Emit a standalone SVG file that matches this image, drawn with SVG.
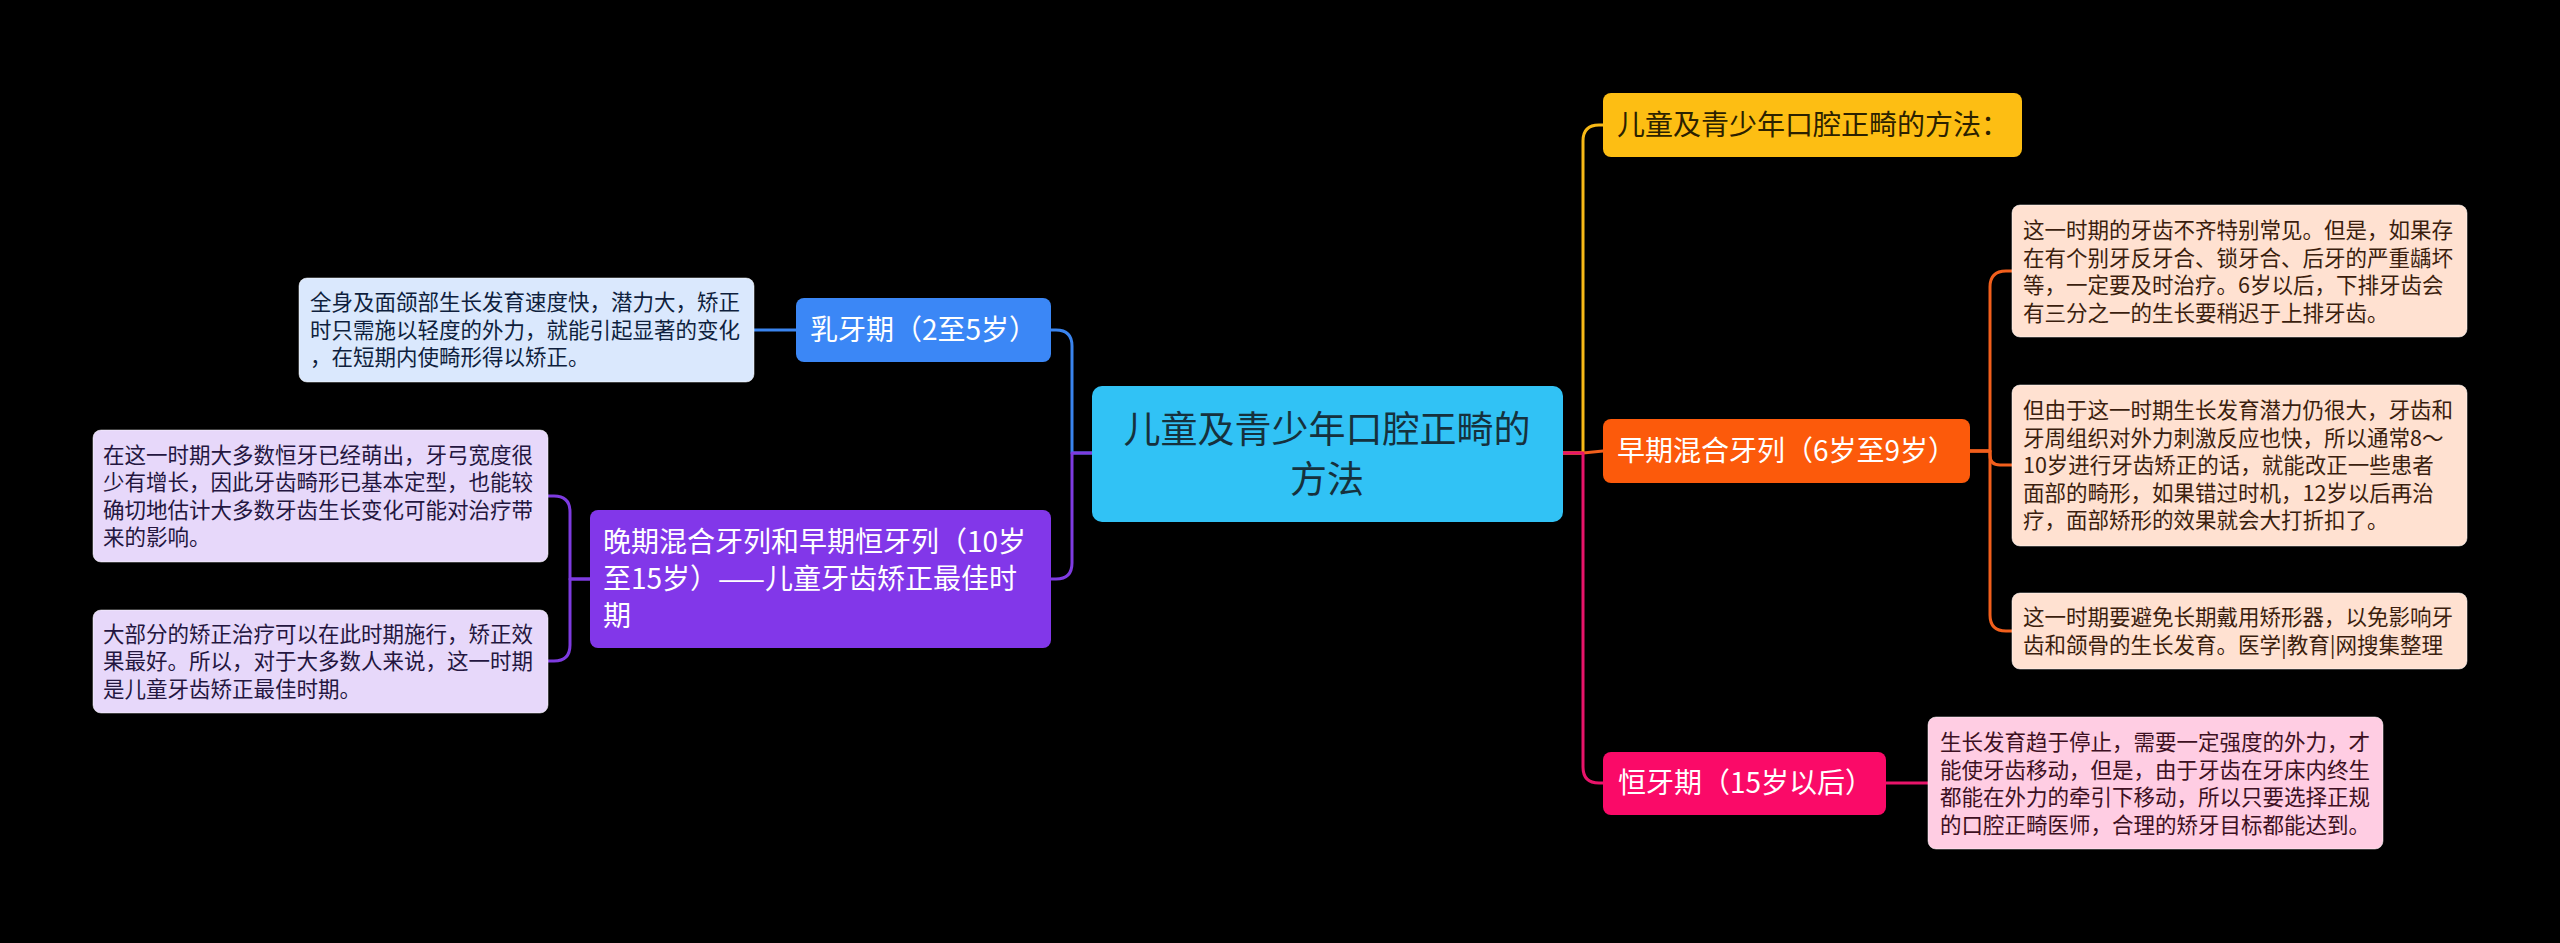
<svg xmlns="http://www.w3.org/2000/svg" width="2560" height="943" viewBox="0 0 2560 943">
<style>
text{font-family:"Noto Sans CJK SC","Noto Sans",sans-serif;}
.c{fill:none;stroke-width:3;stroke-linecap:round;stroke-linejoin:round;}
.br{font-size:28px;fill:#ffffff;}
.ch{font-size:21.5px;}
.cb{stroke:#ffffff;stroke-opacity:0.5;stroke-width:1;}
</style>
<rect x="0" y="0" width="2560" height="943" fill="#000000"/>
<g id="connectors">
  <path class="c" stroke="#F7B916" stroke-width="2" d="M1563,453 H1583 V141 Q1583,125 1599,125 H1603"/>
  <path class="c" stroke="#F25F1C" d="M1563,453 H1583 L1603,451"/>
  <path class="c" stroke="#E8146A" d="M1563,453 H1583 V767 Q1583,783 1599,783 H1603"/>
  <path class="c" stroke="#F25F1C" d="M1970,451 H1990 V287 Q1990,271 2006,271 H2012"/>
  <path class="c" stroke="#F25F1C" d="M1970,451 H1990 V455 Q1990,465 2000,465 H2012"/>
  <path class="c" stroke="#F25F1C" d="M1970,451 H1990 V615 Q1990,631 2006,631 H2012"/>
  <path class="c" stroke="#E8146A" d="M1886,783 H1928"/>
  <path class="c" stroke="#3A84EE" d="M1092,453 H1072 V346 Q1072,330 1056,330 H1051"/>
  <path class="c" stroke="#7E3BE0" d="M1092,453 H1072 V563 Q1072,579 1056,579 H1051"/>
  <path class="c" stroke="#3A84EE" d="M796,330 H754"/>
  <path class="c" stroke="#7E3BE0" d="M590,579 H570 V512 Q570,496 554,496 H548"/>
  <path class="c" stroke="#7E3BE0" d="M590,579 H570 V645 Q570,661 554,661 H548"/>
</g>
<g id="center">
  <rect x="1092" y="386" width="471" height="136" rx="10" fill="#31C2F5"/>
  <text x="1327" y="443" font-size="37" fill="#16313d" text-anchor="middle">儿童及青少年口腔正畸的</text>
  <text x="1327" y="493" font-size="37" fill="#16313d" text-anchor="middle">方法</text>
</g>
<g id="n-yellow">
  <rect x="1603" y="93" width="419" height="64" rx="8" fill="#FDBE13"/>
  <text x="1617" y="135" font-size="28" fill="#2b2100">儿童及青少年口腔正畸的方法：</text>
</g>
<g id="n-orange">
  <rect x="1603" y="419" width="367" height="64" rx="8" fill="#FC5A0B"/>
  <text class="br" x="1617" y="461">早期混合牙列（6岁至9岁）</text>
</g>
<g id="n-orange-1">
  <rect class="cb" x="2012" y="205" width="455" height="132" rx="8" fill="#FFE1D1"/>
  <text class="ch" fill="#3b1e0e">
    <tspan x="2023" y="238">这一时期的牙齿不齐特别常见。但是，如果存</tspan>
    <tspan x="2023" y="265.5">在有个别牙反牙合、锁牙合、后牙的严重龋坏</tspan>
    <tspan x="2023" y="293">等，一定要及时治疗。6岁以后，下排牙齿会</tspan>
    <tspan x="2023" y="320.5">有三分之一的生长要稍迟于上排牙齿。</tspan>
  </text>
</g>
<g id="n-orange-2">
  <rect class="cb" x="2012" y="385" width="455" height="161" rx="8" fill="#FFE1D1"/>
  <text class="ch" fill="#3b1e0e">
    <tspan x="2023" y="418">但由于这一时期生长发育潜力仍很大，牙齿和</tspan>
    <tspan x="2023" y="445.5">牙周组织对外力刺激反应也快，所以通常8～</tspan>
    <tspan x="2023" y="473">10岁进行牙齿矫正的话，就能改正一些患者</tspan>
    <tspan x="2023" y="500.5">面部的畸形，如果错过时机，12岁以后再治</tspan>
    <tspan x="2023" y="528">疗，面部矫形的效果就会大打折扣了。</tspan>
  </text>
</g>
<g id="n-orange-3">
  <rect class="cb" x="2012" y="593" width="455" height="76" rx="8" fill="#FFE1D1"/>
  <text class="ch" fill="#3b1e0e">
    <tspan x="2023" y="625">这一时期要避免长期戴用矫形器，以免影响牙</tspan>
    <tspan x="2023" y="652.5">齿和颌骨的生长发育。医学|教育|网搜集整理</tspan>
  </text>
</g>
<g id="n-pink">
  <rect x="1603" y="752" width="283" height="63" rx="8" fill="#FA0A68"/>
  <text class="br" x="1618" y="793">恒牙期（15岁以后）</text>
</g>
<g id="n-pink-1">
  <rect class="cb" x="1928" y="717" width="455" height="132" rx="8" fill="#FFCDE3"/>
  <text class="ch" fill="#3d1022">
    <tspan x="1940" y="750">生长发育趋于停止，需要一定强度的外力，才</tspan>
    <tspan x="1940" y="777.5">能使牙齿移动，但是，由于牙齿在牙床内终生</tspan>
    <tspan x="1940" y="805">都能在外力的牵引下移动，所以只要选择正规</tspan>
    <tspan x="1940" y="832.5">的口腔正畸医师，合理的矫牙目标都能达到。</tspan>
  </text>
</g>
<g id="n-blue">
  <rect x="796" y="298" width="255" height="64" rx="8" fill="#3B87F6"/>
  <text class="br" x="810" y="340">乳牙期（2至5岁）</text>
</g>
<g id="n-blue-1">
  <rect class="cb" x="299" y="278" width="455" height="104" rx="8" fill="#DAE8FD"/>
  <text class="ch" fill="#0f1f3d">
    <tspan x="310" y="310">全身及面颌部生长发育速度快，潜力大，矫正</tspan>
    <tspan x="310" y="337.5">时只需施以轻度的外力，就能引起显著的变化</tspan>
    <tspan x="310" y="365">，在短期内使畸形得以矫正。</tspan>
  </text>
</g>
<g id="n-purple">
  <rect x="590" y="510" width="461" height="138" rx="8" fill="#8237E9"/>
  <text class="br">
    <tspan x="603" y="552">晚期混合牙列和早期恒牙列（10岁</tspan>
    <tspan x="603" y="589">至15岁）——儿童牙齿矫正最佳时</tspan>
    <tspan x="603" y="626">期</tspan>
  </text>
</g>
<g id="n-purple-1">
  <rect class="cb" x="93" y="430" width="455" height="132" rx="8" fill="#E7D8FA"/>
  <text class="ch" fill="#241640">
    <tspan x="103" y="462.5">在这一时期大多数恒牙已经萌出，牙弓宽度很</tspan>
    <tspan x="103" y="490">少有增长，因此牙齿畸形已基本定型，也能较</tspan>
    <tspan x="103" y="517.5">确切地估计大多数牙齿生长变化可能对治疗带</tspan>
    <tspan x="103" y="545">来的影响。</tspan>
  </text>
</g>
<g id="n-purple-2">
  <rect class="cb" x="93" y="610" width="455" height="103" rx="8" fill="#E7D8FA"/>
  <text class="ch" fill="#241640">
    <tspan x="103" y="641.5">大部分的矫正治疗可以在此时期施行，矫正效</tspan>
    <tspan x="103" y="669">果最好。所以，对于大多数人来说，这一时期</tspan>
    <tspan x="103" y="696.5">是儿童牙齿矫正最佳时期。</tspan>
  </text>
</g>
</svg>
